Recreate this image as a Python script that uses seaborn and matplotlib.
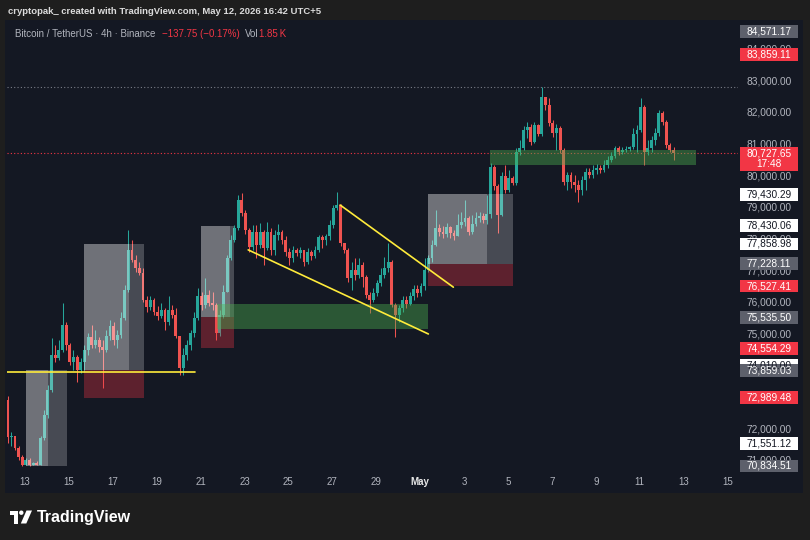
import numpy as np
import pandas as pd
import matplotlib
matplotlib.use("Agg")
import matplotlib.pyplot as plt
import matplotlib.dates as mdates
from matplotlib.patches import Rectangle, Polygon, Circle
import seaborn as sns

# ---------------- data ----------------
candle_start = "2026-04-12 05:00"
first_open = 72920
close = [
    71750, 71780, 71400, 71120, 70870, 71020, 70880, 70900, 70880, 71720,
    72450, 73240, 74350, 74250, 74500, 75290, 74660, 74120, 74280, 73870,
    74120, 74500, 74910, 74660, 74820, 74600, 74500, 74950, 75260, 74820,
    74980, 75520, 76400, 77670, 77350, 77100, 76940, 76090, 75860, 76090,
    75710, 75580, 75770, 75390, 75770, 75610, 74950, 73930, 74350, 74660,
    75040, 75520, 76210, 75930, 76240, 75990, 75930, 75040, 75610, 76340,
    77410, 77980, 78360, 79250, 78840, 78300, 77760, 78240, 77830, 78240,
    77730, 78240, 77670, 78140, 78240, 77980, 77600, 77410, 77670, 77570,
    77670, 77290, 77600, 77480, 77670, 78080, 77980, 78110, 78460, 79000,
    79090, 77890, 77670, 76780, 77030, 76880, 77190, 76810, 76240, 76090,
    76310, 76620, 76880, 77100, 77290, 75930, 75610, 75830, 76090, 75960,
    76210, 76430, 76310, 76530, 77030, 77410, 77830, 78360, 78240, 78170,
    78390, 78200, 78110, 78460, 78550, 78680, 78240, 78490, 78680, 78740,
    78620, 78810, 80290, 79690, 78770, 80010, 79560, 79940, 79790, 80770,
    80890, 81460, 81560, 81080, 81620, 81340, 82510, 82250, 81680, 81370,
    81530, 80830, 79820, 80040, 79820, 79720, 79560, 79880, 80130, 80040,
    80200, 80260, 80200, 80360, 80510, 80640, 80890, 80770, 80830, 80860,
    80920, 81340, 81460, 82190, 80770, 80890, 81150, 81370, 82000, 81720,
    80990, 80830, 80727.65]
high = [
    73050, 71910, 71720, 71470, 71180, 71090, 71090, 70960, 70990, 71780,
    72610, 73400, 74880, 74660, 74820, 75990, 75390, 74730, 74500, 74350,
    74250, 74660, 75040, 75290, 75140, 74910, 74820, 75140, 75450, 75390,
    75140, 75710, 76560, 78300, 77980, 77510, 77290, 77100, 76210, 76210,
    76150, 75900, 75990, 75830, 76210, 75930, 75830, 74950, 74570, 74820,
    75140, 75710, 76470, 76340, 76780, 76400, 76340, 75990, 75770, 76560,
    77510, 78140, 78460, 79410, 79470, 78930, 78360, 78460, 78460, 78520,
    78300, 78550, 78360, 78300, 78490, 78300, 78110, 77730, 77790, 77730,
    77760, 77670, 77730, 77670, 77790, 78140, 78140, 78170, 78620, 79090,
    79500, 79120, 77890, 77730, 77290, 77410, 77410, 77290, 76880, 76340,
    76470, 76720, 77100, 77450, 77890, 77350, 75990, 75930, 76210, 76210,
    76340, 76560, 76560, 76620, 77410, 77510, 77980, 78930, 78490, 78430,
    78520, 78430, 78300, 78810, 78870, 79250, 78740, 78770, 78870, 78870,
    78840, 79410, 80420, 80360, 79750, 80130, 80360, 80200, 80010, 80890,
    81150, 81590, 81720, 81650, 81720, 81650, 82820, 82510, 82470, 81780,
    81650, 81590, 80890, 80130, 80130, 80040, 79880, 80010, 80260, 80260,
    80360, 80390, 80360, 80510, 80640, 80770, 80960, 80960, 80920, 80960,
    80960, 81530, 81620, 82470, 82250, 81150, 81270, 81530, 82100, 82060,
    81780, 81050, 80920]
low = [
    71560, 71470, 71340, 71020, 70840, 70850, 70835, 70850, 70860, 70870,
    71660, 72350, 73180, 74120, 74190, 74440, 74500, 74030, 73870, 73490,
    73780, 73810, 74350, 74570, 74570, 74440, 73300, 74440, 74820, 74660,
    74570, 74880, 75450, 76340, 77290, 76970, 76880, 76020, 75710, 75770,
    75610, 75450, 75520, 75140, 75290, 75520, 74880, 73710, 73720, 74190,
    74500, 74910, 75450, 75770, 75830, 75900, 75770, 74820, 74950, 75520,
    76340, 77350, 77920, 78300, 78740, 78170, 77600, 77670, 77410, 77730,
    77190, 77670, 77510, 77510, 77980, 77860, 77480, 77190, 77290, 77480,
    77410, 77160, 77220, 77350, 77410, 77600, 77730, 77830, 77980, 78360,
    78930, 77790, 77570, 76660, 76400, 76720, 76780, 76500, 76150, 75670,
    76020, 76210, 76530, 76780, 76970, 75860, 74910, 75390, 75710, 75830,
    75930, 76090, 76180, 76210, 76400, 76970, 77290, 77790, 78110, 78050,
    78080, 78050, 77980, 78110, 78360, 78430, 78140, 78170, 78430, 78550,
    78520, 78490, 78680, 79560, 78200, 78740, 79470, 79500, 79720, 79720,
    80670, 80830, 81210, 80990, 81050, 81270, 81270, 82100, 81590, 81240,
    80830, 80730, 79720, 79560, 79630, 79500, 79190, 79410, 79560, 79940,
    79940, 80070, 80100, 80130, 80260, 80450, 80580, 80670, 80700, 80770,
    80800, 80860, 80770, 81400, 80360, 80670, 80770, 80990, 81270, 81620,
    80890, 80770, 80510]

# time axis ticks
tick_dates = ["2026-04-13", "2026-04-15", "2026-04-17", "2026-04-19", "2026-04-21",
              "2026-04-23", "2026-04-25", "2026-04-27", "2026-04-29", "2026-05-01",
              "2026-05-03", "2026-05-05", "2026-05-07", "2026-05-09", "2026-05-11",
              "2026-05-13", "2026-05-15"]
tick_labels = ["13", "15", "17", "19", "21", "23", "25", "27", "29", "May",
               "3", "5", "7", "9", "11", "13", "15"]
x_range = ["2026-04-12 04:19", "2026-05-15 11:30"]
price_range = [70676, 84941]
price_ticks = [71000, 72000, 73000, 74000, 75000, 76000, 77000, 78000,
               79000, 80000, 81000, 82000, 83000, 84000]

# drawings
grey_start = ["2026-04-13 00:45", "2026-04-15 16:30", "2026-04-21 00:10", "2026-05-01 08:20"]
grey_split = ["2026-04-14 01:10", "2026-04-17 17:40", "2026-04-22 08:00", "2026-05-04 00:50"]
grey_end = ["2026-04-14 21:40", "2026-04-18 10:05", "2026-04-22 13:00", "2026-05-05 05:15"]
grey_top = [73859.03, 77858.98, 78430.06, 79430.29]
grey_bottom = [70834.51, 73859.03, 75535.50, 77228.11]
red_start = ["2026-04-15 16:30", "2026-04-21 00:10", "2026-05-01 08:20"]
red_end = ["2026-04-18 10:05", "2026-04-22 13:00", "2026-05-05 05:15"]
red_top = [73859.03, 75535.50, 77228.11]
red_bottom = [72989.48, 74554.29, 76527.41]
green_start = ["2026-04-21 18:00", "2026-05-04 04:30"]
green_end = ["2026-05-01 08:40", "2026-05-13 13:40"]
green_top = [75960, 80830]
green_bottom = [75170, 80355]

support_times = ["2026-04-12 00:00", "2026-04-20 18:00"]
support_prices = [73810, 73810]
lower_line_times = ["2026-04-23 04:00", "2026-05-01 09:00"]
lower_line_prices = [77670, 75010]
upper_line_times = ["2026-04-27 08:30", "2026-05-02 12:20"]
upper_line_prices = [79090, 76490]

high_line_price = 82830
last_price = 80727.65
countdown = "17:48"

label_prices = [84571.17, 83859.11, 79430.29, 78430.06, 77858.98, 77228.11, 76527.41,
                75535.50, 74554.29, 74010.00, 73859.03, 72989.48, 71551.12, 70834.51]
label_kinds = ["grey", "red", "white", "white", "white", "grey", "red",
               "grey", "red", "white", "grey", "red", "white", "grey"]

header_text = "cryptopak_ created with TradingView.com, May 12, 2026 16:42 UTC+5"
title_text = "Bitcoin / TetherUS \u00b7 4h \u00b7 Binance"
change_text = "\u2212137.75 (\u22120.17%)"
vol_label = "Vol"
vol_value = "1.85\u2009K"

assert len(close) == len(high) == len(low)

# ---------------- styling ----------------
sns.set_theme(style="dark")
plt.rcParams["font.family"] = ["Liberation Sans", "DejaVu Sans"]

BG_OUT = "#1e1e1e"
BG = "#141823"
UP = "#26a69a"
DOWN = "#ef5350"
TXT = "#b2b5be"
RED = "#f23645"
GREYLAB = "#5d606b"
YEL = "#ffeb3b"

times = pd.date_range(candle_start, periods=len(close), freq="4h")
opens = [first_open] + close[:-1]
df = pd.DataFrame({"time": times, "open": opens, "close": close, "high": high, "low": low})
df["x"] = mdates.date2num(df["time"])
df["up"] = df["close"] >= df["open"]
df["bottom"] = df[["open", "close"]].min(axis=1)
df["height"] = (df["close"] - df["open"]).abs().clip(lower=35)
df["color"] = np.where(df["up"], UP, DOWN)

def dn(s):
    return mdates.date2num(pd.Timestamp(s))

fig = plt.figure(figsize=(8.1, 5.4), dpi=100)
fig.patch.set_facecolor(BG_OUT)

# background / decoration layer in pixel coords
bg = fig.add_axes([0, 0, 1, 1], zorder=0)
bg.set_xlim(0, 810)
bg.set_ylim(540, 0)
bg.axis("off")
bg.add_patch(Rectangle((5, 20), 798, 473, color=BG, lw=0))
bg.text(8, 11, header_text, color="#dcdcdc", fontsize=6.8, fontweight="bold", va="center", ha="left")
bg.text(15, 34, title_text, color=TXT, fontsize=7, va="center", ha="left")
bg.text(162, 34, change_text, color=RED, fontsize=7, va="center", ha="left")
bg.text(245, 34, vol_label, color=TXT, fontsize=7, va="center", ha="left")
bg.text(259, 34, vol_value, color=RED, fontsize=7, va="center", ha="left")
# TradingView logo
bg.add_patch(Polygon([(9.5, 510.5), (18, 510.5), (18, 523.5), (13.8, 523.5), (13.8, 514.8), (9.5, 514.8)],
                     closed=True, color="white", lw=0))
bg.add_patch(Circle((21.3, 512.7), 2.2, color="white", lw=0))
bg.add_patch(Polygon([(26.5, 510.5), (32, 510.5), (26.3, 523.5), (20.8, 523.5)], closed=True, color="white", lw=0))
bg.text(37, 517.5, "TradingView", color="white", fontsize=11.5, fontweight="bold", va="center", ha="left")

# main chart
ax = fig.add_axes([7 / 810, 1 - 471 / 540, (738 - 7) / 810, (471 - 20) / 540], zorder=1)
ax.set_facecolor("none")
for s in ax.spines.values():
    s.set_visible(False)
ax.grid(False)

# candles
ax.vlines(df["x"], df["low"], df["high"], colors=df["color"], lw=0.75, zorder=2)
ax.bar(df["x"], df["height"], bottom=df["bottom"], width=0.13, color=df["color"], lw=0, zorder=2)

# boxes
for s, sp, e, t, b in zip(grey_start, grey_split, grey_end, grey_top, grey_bottom):
    ax.add_patch(Rectangle((dn(s), b), dn(e) - dn(s), t - b, color="white", alpha=0.22, lw=0, zorder=3))
    ax.add_patch(Rectangle((dn(s), b), dn(sp) - dn(s), t - b, color="white", alpha=0.22, lw=0, zorder=3))
for s, e, t, b in zip(red_start, red_end, red_top, red_bottom):
    ax.add_patch(Rectangle((dn(s), b), dn(e) - dn(s), t - b, color=RED, alpha=0.33, lw=0, zorder=3))
for s, e, t, b in zip(green_start, green_end, green_top, green_bottom):
    ax.add_patch(Rectangle((dn(s), b), dn(e) - dn(s), t - b, color="#4caf50", alpha=0.42, lw=0, zorder=3))

# dotted price lines
ax.axhline(high_line_price, color="#787b86", ls=(0, (1, 2)), lw=0.8, zorder=1.5)
ax.axhline(last_price, color=RED, ls=(0, (1, 2)), lw=0.8, zorder=1.5)

# trend lines
for tt, pp in [(support_times, support_prices), (lower_line_times, lower_line_prices),
               (upper_line_times, upper_line_prices)]:
    sns.lineplot(x=[dn(t) for t in tt], y=pp, ax=ax, color=YEL, lw=1.2, estimator=None, sort=False, zorder=4)

ax.set_xlim(dn(x_range[0]), dn(x_range[1]))
ax.set_ylim(*price_range)

# time axis
ax.set_xticks([dn(d) for d in tick_dates])
ax.set_xticklabels(tick_labels)
ax.tick_params(axis="x", length=0, pad=4, colors=TXT, labelsize=7)
for lab in ax.get_xticklabels():
    if lab.get_text() == "May":
        lab.set_color("#e8e8e8")
        lab.set_fontweight("bold")
ax.set_yticks([])
ax.set_ylabel("")
ax.set_xlabel("")

# price scale
ytr = ax.get_yaxis_transform()
XC = (769 - 7) / 731
XL = (740 - 7) / 731
BW = (798 - 740) / 731
BH = 405
for p in price_ticks:
    ax.text(XC, p, f"{p:,.2f}", transform=ytr, color=TXT, fontsize=7.3, ha="center", va="center",
            zorder=5, clip_on=False)
styles = {"grey": (GREYLAB, "white"), "red": (RED, "white"), "white": ("white", "#131722")}
for p, kind in zip(label_prices, label_kinds):
    fc, tc = styles[kind]
    ax.add_patch(Rectangle((XL, p - BH / 2), BW, BH, transform=ytr, color=fc, lw=0, zorder=6, clip_on=False))
    ax.text(XC, p, f"{p:,.2f}", transform=ytr, color=tc, fontsize=7.3, ha="center", va="center",
            zorder=7, clip_on=False)
# last price label with countdown
ax.add_patch(Rectangle((XL, last_price - 563), BW, 760, transform=ytr, color=RED, lw=0, zorder=8, clip_on=False))
ax.text(XC, last_price, f"{last_price:,.2f}", transform=ytr, color="white", fontsize=7.3,
        ha="center", va="center", zorder=9, clip_on=False)
ax.text(XC, last_price - 345, countdown, transform=ytr, color="white", fontsize=7.3,
        ha="center", va="center", zorder=9, clip_on=False)

fig.savefig("out.png", dpi=100, facecolor=BG_OUT)
